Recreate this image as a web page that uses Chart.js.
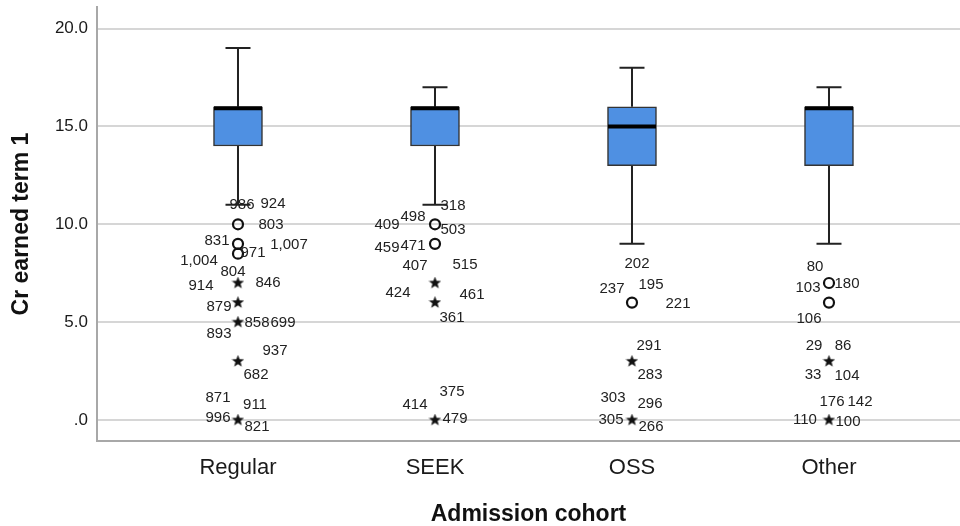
<!DOCTYPE html>
<html>
<head>
<meta charset="utf-8">
<script src="https://cdn.jsdelivr.net/npm/chart.js@4.4.0/dist/chart.umd.min.js"></script>
<style>
  html, body { margin: 0; padding: 0; background: #fff; }
  #wrap { width: 960px; height: 526px; }
</style>
</head>
<body>
<div id="wrap"><canvas id="boxChart"></canvas></div>
<script>
// Boxplot values
const categories = ['Regular', 'SEEK', 'OSS', 'Other'];
const whiskerLow = [11, 11, 9, 9];
const q1 = [14, 14, 13, 13];
const median = [16, 16, 15, 16];
const q3 = [16, 16, 16, 16];
const whiskerHigh = [19, 17, 18, 17];

// outliers (circles) and extreme cases (stars)
const outliers = [[10, 9, 8.5], [10, 9], [6], [7, 6]];
const extremes = [[7, 6, 5, 3, 0], [7, 6, 0], [3, 0], [3, 0]];

// case numbers next to the marks, and the value each belongs to
const caseIds = [
  ['986', '924', '803', '831', '1,007', '971', '1,004', '804', '914', '846', '879', '858', '699', '893', '937', '682', '871', '911', '996', '821'],
  ['318', '498', '409', '503', '459', '471', '407', '515', '424', '461', '361', '375', '414', '479'],
  ['202', '237', '195', '221', '291', '283', '303', '296', '305', '266'],
  ['80', '103', '180', '106', '29', '86', '33', '104', '176', '142', '110', '100']
];
const caseValues = [
  [10, 10, 10, 9, 9, 8.5, 7, 7, 7, 7, 6, 5, 5, 5, 3, 3, 0, 0, 0, 0],
  [10, 10, 10, 10, 9, 9, 7, 7, 7, 6, 6, 0, 0, 0],
  [6, 6, 6, 6, 3, 3, 0, 0, 0, 0],
  [7, 7, 7, 6, 3, 3, 3, 3, 0, 0, 0, 0]
];
const yTicks = [0, 5, 10, 15, 20];

// label placement around the mark (px), kept apart from the data
const labelOffsets = [
  [[4, -19], [35, -20], [33, 1], [-21, -3], [51, 1], [15, -1], [-39, -22], [-5, -11], [-37, 3], [30, 0],
   [-19, 4], [19, 1], [45, 1], [-19, 12], [37, -10], [18, 14], [-20, -22], [17, -15], [-20, -2], [19, 7]],
  [[18, -18], [-22, -7], [-48, 1], [18, 6], [-48, 4], [-22, 2], [-20, -17], [30, -18], [-37, 10], [37, -8],
   [17, 15], [17, -28], [-20, -15], [20, -1]],
  [[5, -39], [-20, -14], [19, -18], [46, 1], [17, -15], [18, 14], [-19, -22], [18, -16], [-21, 0], [19, 7]],
  [[-14, -16], [-21, 5], [18, 1], [-20, 16], [-15, -15], [14, -15], [-16, 14], [18, 15], [3, -18], [31, -18],
   [-24, 0], [19, 2]]
];

const FONT = "'Liberation Sans', Arial, sans-serif";

function makeStar(size) {
  const c = document.createElement('canvas');
  c.width = c.height = size;
  const g = c.getContext('2d');
  const r = size / 2, ri = r * 0.42;
  g.beginPath();
  for (let k = 0; k < 10; k++) {
    const a = -Math.PI / 2 + k * Math.PI / 5;
    const rr = k % 2 ? ri : r;
    g.lineTo(r + rr * Math.cos(a), r + rr * Math.sin(a));
  }
  g.closePath();
  g.fillStyle = '#111';
  g.fill();
  return c;
}
const starImg = makeStar(13);

const circlePts = [];
outliers.forEach((arr, i) => arr.forEach(v => circlePts.push({ x: i + 1, y: v })));
const starPts = [];
extremes.forEach((arr, i) => arr.forEach(v => starPts.push({ x: i + 1, y: v })));

// whiskers, medians and case labels
const boxExtras = {
  id: 'boxExtras',
  beforeDatasetsDraw(chart) {
    const { ctx, scales: { x, y } } = chart;
    ctx.save();
    ctx.strokeStyle = '#222';
    ctx.lineWidth = 2;
    categories.forEach((c, i) => {
      const px = x.getPixelForValue(i + 1);
      const capW = 12.5;
      ctx.beginPath();
      ctx.moveTo(px, y.getPixelForValue(q3[i]));
      ctx.lineTo(px, y.getPixelForValue(whiskerHigh[i]));
      ctx.moveTo(px, y.getPixelForValue(q1[i]));
      ctx.lineTo(px, y.getPixelForValue(whiskerLow[i]));
      ctx.moveTo(px - capW, y.getPixelForValue(whiskerHigh[i]));
      ctx.lineTo(px + capW, y.getPixelForValue(whiskerHigh[i]));
      ctx.moveTo(px - capW, y.getPixelForValue(whiskerLow[i]));
      ctx.lineTo(px + capW, y.getPixelForValue(whiskerLow[i]));
      ctx.stroke();
    });
    ctx.restore();
  },
  afterDatasetsDraw(chart) {
    const { ctx, scales: { x, y } } = chart;
    ctx.save();
    ctx.strokeStyle = '#000';
    ctx.lineWidth = 4;
    categories.forEach((c, i) => {
      const px = x.getPixelForValue(i + 1);
      const py = y.getPixelForValue(median[i]) + (median[i] === q3[i] ? 1.5 : 0);
      ctx.beginPath();
      ctx.moveTo(px - 24, py);
      ctx.lineTo(px + 24, py);
      ctx.stroke();
    });
    ctx.fillStyle = '#222';
    ctx.font = '15px ' + FONT;
    ctx.textAlign = 'center';
    ctx.textBaseline = 'middle';
    caseIds.forEach((ids, i) => {
      const px = x.getPixelForValue(i + 1);
      ids.forEach((id, k) => {
        const off = labelOffsets[i][k];
        ctx.fillText(id, px + off[0], y.getPixelForValue(caseValues[i][k]) + off[1]);
      });
    });
    ctx.restore();
  }
};

new Chart(document.getElementById('boxChart'), {
  data: {
    datasets: [
      {
        type: 'bar',
        data: categories.map((c, i) => ({ x: i + 1, y: [q1[i], q3[i]] })),
        backgroundColor: '#4f90e2',
        borderColor: '#333',
        borderWidth: 1.5,
        borderSkipped: false,
        barThickness: 49
      },
      {
        type: 'scatter',
        data: circlePts,
        pointStyle: 'circle',
        pointRadius: 5,
        borderWidth: 2.2,
        borderColor: '#111',
        backgroundColor: 'rgba(0,0,0,0)'
      },
      {
        type: 'scatter',
        data: starPts,
        pointStyle: starImg,
        pointRadius: 6
      }
    ]
  },
  options: {
    responsive: true,
    maintainAspectRatio: false,
    animation: false,
    layout: { autoPadding: false, padding: { top: 7, left: 0, right: 0, bottom: 0 } },
    plugins: { legend: { display: false }, tooltip: { enabled: false } },
    scales: {
      x: {
        type: 'linear',
        offset: false,
        min: 0.2843,
        max: 4.665,
        afterFit: s => { s.height = 85; s.paddingLeft = 0; s.paddingRight = 0; },
        afterBuildTicks: s => { s.ticks = categories.map((c, i) => ({ value: i + 1 })); },
        ticks: {
          callback: v => categories[v - 1],
          color: '#1a1a1a',
          font: { family: FONT, size: 22 },
          padding: 14
        },
        grid: { display: false, drawTicks: false },
        border: { color: '#a8a8a8', width: 2 },
        title: {
          display: true,
          text: 'Admission cohort',
          color: '#111',
          font: { family: FONT, size: 23, weight: 'bold' },
          padding: { top: 0, bottom: -2 }
        }
      },
      y: {
        min: -1.07,
        max: 21.1,
        afterFit: s => { s.width = 97; s.paddingTop = 0; s.paddingBottom = 0; },
        afterBuildTicks: s => { s.ticks = yTicks.map(v => ({ value: v })); },
        ticks: {
          callback: v => (v === 0 ? '.0' : v.toFixed(1)),
          color: '#1a1a1a',
          font: { family: FONT, size: 17 },
          padding: 9
        },
        grid: { color: '#d6d6d6', lineWidth: 2, drawTicks: false },
        border: { color: '#a8a8a8', width: 2 },
        title: {
          display: true,
          text: 'Cr earned term 1',
          color: '#111',
          font: { family: FONT, size: 23, weight: 'bold' },
          padding: { top: 8, bottom: 0 }
        }
      }
    }
  },
  plugins: [boxExtras]
});
</script>
</body>
</html>
